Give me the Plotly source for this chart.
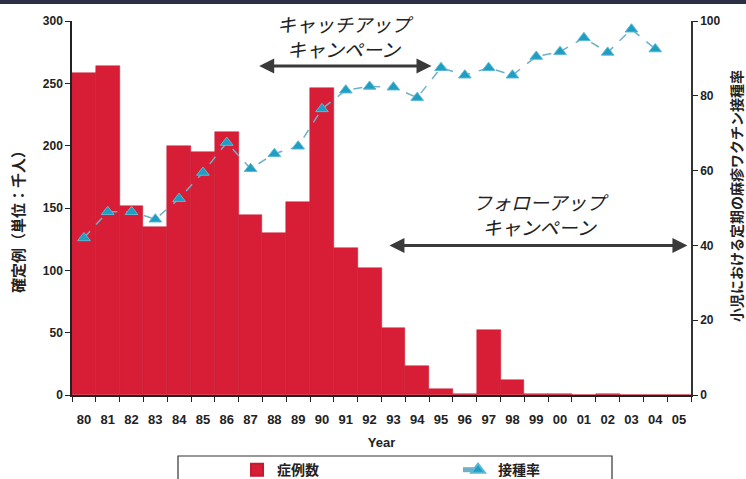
import plotly.graph_objects as go

years = ["80","81","82","83","84","85","86","87","88","89","90","91","92",
         "93","94","95","96","97","98","99","00","01","02","03","04","05"]
cases = [258, 264, 152, 135, 200, 195, 211, 144, 130, 155, 246, 118, 102,
         54, 23, 5, 1, 52, 12, 0.6, 1.2, 0.3, 1.0, 0, 0, 0]
rate_years = years[:25]
rate = [42, 49, 49, 47, 52.5, 59.5, 67.5, 60.5, 64.5, 66.5, 76.5, 81.5, 82.5,
        82.3, 79.5, 87.5, 85.5, 87.5, 85.5, 90.5, 91.8, 95.5, 91.6, 97.8, 92.5]

JP = "Noto Sans CJK JP"
AX = "Liberation Sans"

fig = go.Figure()
fig.add_trace(go.Bar(
    x=years, y=cases, name="症例数",
    marker=dict(color="#d81e36", line=dict(color="#c41a30", width=0.5)),
    yaxis="y",
))
fig.add_trace(go.Scatter(
    x=rate_years, y=rate, name="接種率", mode="lines+markers",
    line=dict(color="#6fb0c6", width=1.5, dash="dash"),
    marker=dict(symbol="triangle-up", size=11, color="#1f9ec3",
                line=dict(color="#5bb8d4", width=1)),
    yaxis="y2",
))

axis_font = dict(family=AX, size=12, color="#222", weight="bold")

fig.update_layout(
    width=746, height=479,
    margin=dict(l=72, r=55, t=21, b=84, autoexpand=False),
    paper_bgcolor="white", plot_bgcolor="white",
    bargap=0,
    showlegend=True,
    legend=dict(orientation="h", x=0.2666, xanchor="left", y=-0.158, yanchor="top",
                entrywidth=176, entrywidthmode="pixels",
                font=dict(family=JP, size=14, color="#222", weight="bold"),
                bgcolor="rgba(0,0,0,0)", borderwidth=0, itemsizing="constant"),
    xaxis=dict(type="category", range=[-0.5, 25.5], tickson="boundaries",
               ticks="outside", ticklen=5, tickcolor="#222", showline=True,
               linecolor="#222", linewidth=1.5, showgrid=False,
               tickfont=dict(family=AX, size=13, color="#222", weight="bold"),
               tickangle=0, automargin=False, ticklabelstandoff=12,
               title=dict(text="Year", font=dict(family=AX, size=13, color="#222", weight="bold"),
                          standoff=12)),
    yaxis=dict(range=[0, 300], dtick=50, ticks="outside", ticklen=5, tickcolor="#222",
               showline=True, linecolor="#222", linewidth=1.5, showgrid=False,
               zeroline=False, tickfont=axis_font, automargin=False),
    yaxis2=dict(range=[0, 100], dtick=20, overlaying="y", side="right", ticks="outside",
                ticklen=5, tickcolor="#222", showline=True, linecolor="#333", linewidth=1.5,
                showgrid=False, zeroline=False, tickfont=axis_font, automargin=False),
)

# axis titles (placed as rotated text)
fig.add_annotation(x=(17 - 72) / 619, y=(395 - 218) / 374, xref="paper", yref="paper",
                   text="確定例（単位：千人）", textangle=-90, showarrow=False,
                   font=dict(family=JP, size=15, color="#222", weight="bold"),
                   xanchor="center", yanchor="middle")
fig.add_annotation(x=(736 - 72) / 619, y=(395 - 196) / 374, xref="paper", yref="paper",
                   text="小児における定期の麻疹ワクチン接種率", textangle=-90, showarrow=False,
                   font=dict(family=JP, size=14, color="#222", weight="bold"),
                   xanchor="center", yanchor="middle")

# campaign arrows
arrow_col = "#3a3a3a"
fig.add_annotation(x=14.6, y=264, ax=7.3, ay=264, xref="x", yref="y", axref="x", ayref="y",
                   text="", showarrow=True, arrowhead=2, arrowside="end+start",
                   arrowsize=1, arrowwidth=3, arrowcolor=arrow_col)
fig.add_annotation(x=25.35, y=120, ax=12.77, ay=120, xref="x", yref="y", axref="x", ayref="y",
                   text="", showarrow=True, arrowhead=2, arrowside="end+start",
                   arrowsize=1, arrowwidth=3, arrowcolor=arrow_col)

txt_font = dict(family=JP, size=19, color="#222", style="italic")
fig.add_annotation(x=11.0, y=288, xref="x", yref="y", text="キャッチアップ<br>キャンペーン",
                   showarrow=False, font=txt_font, yanchor="middle", align="center")
fig.add_annotation(x=19.2, y=145, xref="x", yref="y", text="フォローアップ<br>キャンペーン",
                   showarrow=False, font=txt_font, yanchor="middle", align="center")

# legend frame
fig.add_shape(type="rect", xref="paper", yref="paper",
              x0=(178 - 72) / 619, x1=(612 - 72) / 619,
              y0=-0.35, y1=(395 - 456) / 374,
              line=dict(color="#333", width=1.2), fillcolor="rgba(0,0,0,0)")
# top slide border
fig.add_shape(type="rect", xref="paper", yref="paper",
              x0=-72 / 619, x1=(746 - 72) / 619,
              y0=1 + 17 / 374, y1=1 + 22 / 374,
              line=dict(width=0), fillcolor="#2b2f45")

fig.write_html("out.html")
